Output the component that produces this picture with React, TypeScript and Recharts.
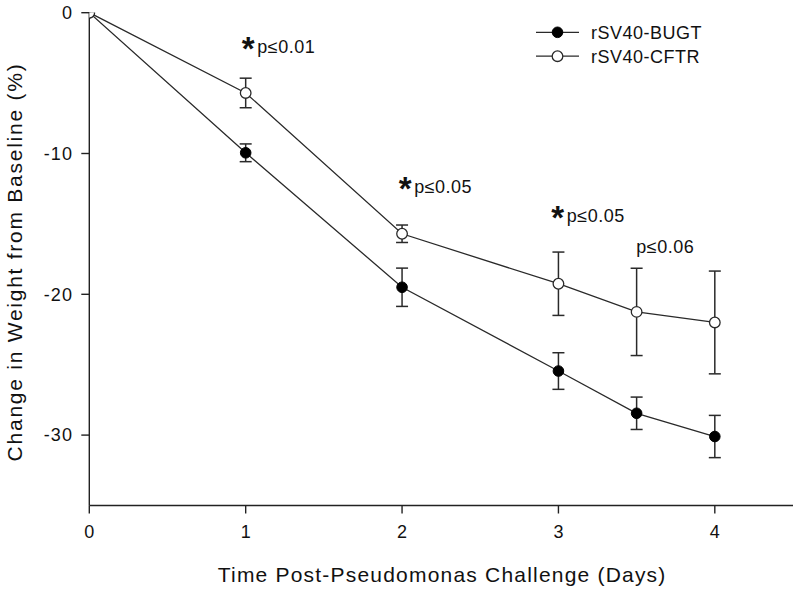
import React from 'react';
import { LineChart, Line, XAxis, YAxis, ErrorBar, ReferenceDot } from 'recharts';

const days = [0, 1, 2, 3, 3.5, 4];
const bugtMean = [0, -9.95, -19.5, -25.45, -28.45, -30.1];
const bugtErr: (number | null)[] = [null, 0.63, 1.36, 1.3, 1.15, 1.5];
const cftrMean = [0, -5.7, -15.7, -19.25, -21.25, -22.0];
const cftrErr: (number | null)[] = [null, 1.05, 0.62, 2.25, 3.1, 3.65];

const xTicks = [0, 1, 2, 3, 4];
const yTicks = [-30, -20, -10, 0];
const seriesNames = ['rSV40-BUGT', 'rSV40-CFTR'];

const annX = [0.982, 1.985, 2.961, 3.498];
const annY = [-2.86, -12.83, -14.84, -17.09];
const annStar = [true, true, true, false];
const annText = ['p≤0.01', 'p≤0.05', 'p≤0.05', 'p≤0.06'];

const FONT = "'Liberation Sans', Arial, sans-serif";
const AXIS = '#222';
const LINE = '#2a2a2a';
const TEXT = '#111';

const tableData = days.map((d, i) => ({
  day: d,
  bugt: bugtMean[i],
  bugtE: bugtErr[i],
  cftr: cftrMean[i],
  cftrE: cftrErr[i],
}));

const annotations = annX.map((x, i) => ({ x, y: annY[i], star: annStar[i], text: annText[i] }));

const FilledDot = (p: any) => (
  <circle cx={p.cx} cy={p.cy} r={5.3} fill="#000" stroke="#000" strokeWidth={1} />
);
const OpenDot = (p: any) => (
  <circle cx={p.cx} cy={p.cy} r={5.3} fill="#fff" stroke={LINE} strokeWidth={1.3} />
);

const makeAnnShape = (a: { star: boolean; text: string }) => (p: any) => {
  const cx = p.cx;
  const cy = p.cy;
  return (
    <g>
      {a.star && (
        <text x={cx - 1} y={cy + 7} fontSize={33} fontWeight="bold" fontFamily={FONT} fill={TEXT}>
          *
        </text>
      )}
      <text
        x={a.star ? cx + 14.5 : cx}
        y={cy}
        fontSize={18}
        fontFamily={FONT}
        fill={TEXT}
        letterSpacing={0.5}
      >
        {a.text}
      </text>
    </g>
  );
};

const YTitle = () => {
  const cy = 262;
  const x = 22;
  return (
    <text
      x={x}
      y={cy}
      transform={`rotate(-90, ${x}, ${cy})`}
      textAnchor="middle"
      fontSize={21}
      fontFamily={FONT}
      fill={TEXT}
      letterSpacing={1.75}
    >
      Change in Weight from Baseline (%)
    </text>
  );
};

const XTitle = (props: any) => {
  const vb = props.viewBox || { x: 0, y: 0, width: 0 };
  return (
    <text
      x={vb.x + vb.width / 2 + 1}
      y={vb.y + 76}
      textAnchor="middle"
      fontSize={21}
      fontFamily={FONT}
      fill={TEXT}
      letterSpacing={1.2}
    >
      Time Post-Pseudomonas Challenge (Days)
    </text>
  );
};

const LegendOverlay = () => (
  <svg width={800} height={80} style={{ position: 'absolute', left: 0, top: 0, pointerEvents: 'none' }}>
    {seriesNames.map((name, i) => {
      const cy = 32.3 + i * 23.9;
      return (
        <g key={name}>
          <line x1={536} x2={579} y1={cy} y2={cy} stroke={LINE} strokeWidth={1.3} />
          {i === 0 ? (
            <circle cx={557.5} cy={cy} r={5.3} fill="#000" stroke="#000" />
          ) : (
            <circle cx={557.5} cy={cy} r={5.3} fill="#fff" stroke={LINE} strokeWidth={1.3} />
          )}
          <text x={591} y={cy + 6.4} fontSize={18} fontFamily={FONT} fill={TEXT} letterSpacing={0.5}>
            {name}
          </text>
        </g>
      );
    })}
  </svg>
);

export default function App() {
  return (
    <div style={{ position: 'absolute', left: 0, top: 0, width: 800, height: 593, background: '#fff' }}>
      <LineChart
        width={800}
        height={593}
        data={tableData}
        margin={{ top: 12.7, right: 7, bottom: 57.5, left: 0 }}
      >
        <XAxis
          dataKey="day"
          type="number"
          domain={[0, 4.5]}
          ticks={xTicks}
          allowDataOverflow
          height={30}
          stroke={AXIS}
          strokeWidth={1.4}
          tickSize={8}
          tickMargin={12}
          tick={{ fontSize: 18, fill: TEXT, fontFamily: FONT }}
          label={<XTitle />}
        />
        <YAxis
          type="number"
          domain={[-35, 0]}
          ticks={yTicks}
          allowDataOverflow
          width={89.3}
          stroke={AXIS}
          strokeWidth={1.4}
          tickSize={8}
          tickMargin={8}
          tick={{ fontSize: 18, fill: TEXT, fontFamily: FONT, letterSpacing: 1.2 }}
          label={<YTitle />}
        />
        <Line
          dataKey="bugt"
          name={seriesNames[0]}
          stroke={LINE}
          strokeWidth={1.3}
          dot={<FilledDot />}
          activeDot={false}
          isAnimationActive={false}
          type="linear"
        >
          <ErrorBar dataKey="bugtE" width={6} stroke={LINE} strokeWidth={1.5} direction="y" />
        </Line>
        <Line
          dataKey="cftr"
          name={seriesNames[1]}
          stroke={LINE}
          strokeWidth={1.3}
          dot={<OpenDot />}
          activeDot={false}
          isAnimationActive={false}
          type="linear"
        >
          <ErrorBar dataKey="cftrE" width={6} stroke={LINE} strokeWidth={1.5} direction="y" />
        </Line>
        {annotations.map((a, i) => (
          <ReferenceDot key={i} x={a.x} y={a.y} r={0} ifOverflow="visible" shape={makeAnnShape(a)} />
        ))}
      </LineChart>
      <LegendOverlay />
    </div>
  );
}
